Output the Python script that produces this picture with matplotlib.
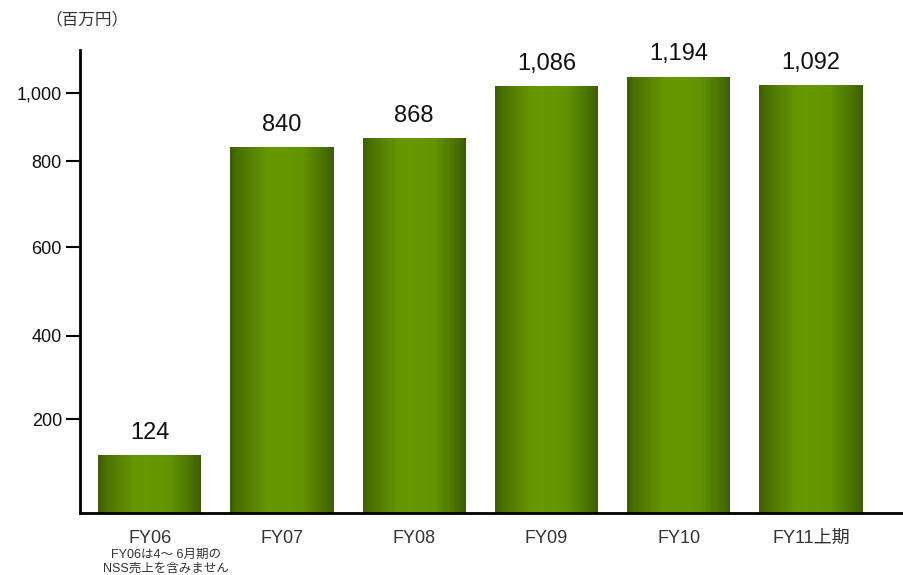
import matplotlib
matplotlib.use("Agg")
import matplotlib.pyplot as plt
import numpy as np

plt.rcParams['font.family'] = ['Liberation Sans', 'Noto Sans CJK JP', 'DejaVu Sans']

# data
categories = ["FY06", "FY07", "FY08", "FY09", "FY10", "FY11上期"]
sales = [124, 840, 868, 1086, 1194, 1092]
value_labels = ["124", "840", "868", "1,086", "1,194", "1,092"]
yticks = [200, 400, 600, 800, 1000]
ytick_labels = ["200", "400", "600", "800", "1,000"]
note = "FY06は4～ 6月期の\nNSS売上を含みません"
unit = "（百万円）"

# the original axis is not evenly spaced: tick value -> height
scale_vals = np.array([0, 200, 400, 600, 800, 1000, 1200, 1400], dtype=float)
scale_px = np.array([0, 94, 177, 266, 352, 420, 437, 463], dtype=float)


def fwd(v):
    return np.interp(v, scale_vals, scale_px)


def inv(p):
    return np.interp(p, scale_px, scale_vals)


fig = plt.figure(figsize=(9.04, 5.75), dpi=100)
ax = fig.add_axes([80 / 904, 62 / 575, 824 / 904, 463 / 575])
ax.set_yscale('function', functions=(fwd, inv))

# gradient bars built from thin slices
dark = np.array([0x3c, 0x5c, 0x00]) / 255
light = np.array([0x66, 0x99, 0x00]) / 255
width = 0.78
n = 60
edges = np.linspace(-width / 2, width / 2, n + 1)
mids = (edges[:-1] + edges[1:]) / 2
t = (mids + width / 2) / width
mix = np.interp(t, [0, 0.08, 0.35, 0.45, 0.6, 0.7, 0.92, 1.0],
                [0.0, 0.35, 0.95, 1.0, 0.95, 0.9, 0.3, 0.0])
x = np.arange(len(categories))
for i, v in enumerate(sales):
    for m, c in zip(mids, mix):
        ax.bar(x[i] + m, v, width=width / n * 1.05, color=dark + (light - dark) * c,
               linewidth=0, antialiased=False)
    ax.annotate(value_labels[i], (x[i], v), xytext=(0, 8), textcoords='offset points',
                ha='center', va='bottom', fontsize=17, color='#111111')

ax.set_xlim(-0.527, 5.703)
ax.set_ylim(0, 1400)
ax.set_yticks(yticks)
ax.set_yticklabels(ytick_labels, fontsize=13, color='#111111')
ax.set_xticks(x)
ax.set_xticklabels(categories, fontsize=13, color='#333333')
ax.tick_params(axis='y', direction='out', length=10, width=1.5, pad=3)
ax.tick_params(axis='x', length=0, pad=12)
ax.yaxis.set_minor_locator(matplotlib.ticker.NullLocator())
for s in ['top', 'right']:
    ax.spines[s].set_visible(False)
for s in ['left', 'bottom']:
    ax.spines[s].set_linewidth(2)
    ax.spines[s].set_color('black')

fig.text(166 / 904, 1 - 562 / 575, note, ha='center', va='center', fontsize=9,
         color='#333333', linespacing=1.2)
fig.text(87 / 904, 1 - 19 / 575, unit, ha='center', va='center', fontsize=12,
         color='#333333')

fig.savefig("out.png", dpi=100)
